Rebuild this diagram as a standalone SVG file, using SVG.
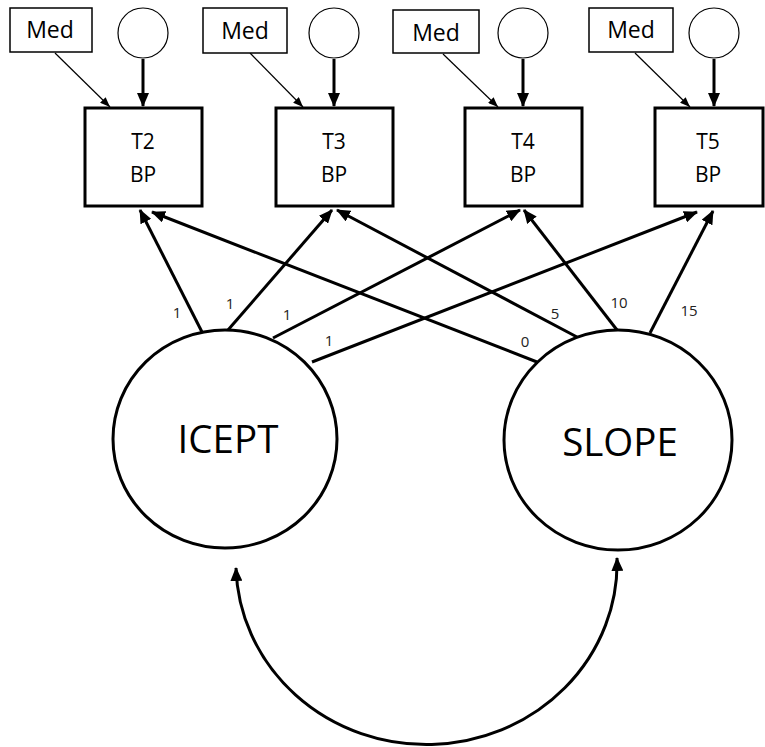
<svg xmlns="http://www.w3.org/2000/svg" width="765" height="747" viewBox="0 0 765 747">
<style>
.box{fill:#fff;stroke:#000;stroke-width:3}
.med{fill:#fff;stroke:#000;stroke-width:1.5}
.err{fill:#fff;stroke:#000;stroke-width:1.2}
.lat{fill:#fff;stroke:#000;stroke-width:3}
.t{font-family:"Open Sans","Noto Sans",sans-serif;fill:#000;text-anchor:middle}
.big{font-size:38.5px}
.mid{font-size:21px}
.medt{font-size:23px}
.lab{font-size:15px;fill:#222}
.thick{stroke:#000;stroke-width:3;fill:none;marker-end:url(#ah)}
.thin{stroke:#000;stroke-width:1.2;fill:none;marker-end:url(#ahs)}
</style>
<defs>
<marker id="ah" markerUnits="userSpaceOnUse" markerWidth="14" markerHeight="12" refX="13" refY="6" orient="auto-start-reverse" viewBox="0 0 14 12">
<path d="M0,0 L14,6 L0,12 z" fill="#000"/>
</marker>
<marker id="ahs" markerUnits="userSpaceOnUse" markerWidth="10" markerHeight="8" refX="10" refY="4" orient="auto" viewBox="0 0 10 8">
<path d="M0,0 L10,4 L0,8 z" fill="#000"/>
</marker>
</defs>
<rect width="765" height="747" fill="#fff"/>
<g id="connectors">
<line class="thin" x1="55" y1="53" x2="110" y2="107"/>
<line class="thin" x1="250" y1="53" x2="303" y2="107"/>
<line class="thin" x1="443" y1="54" x2="498" y2="107"/>
<line class="thin" x1="635" y1="53" x2="690" y2="107"/>
<line class="thick" x1="143" y1="59" x2="143" y2="106"/>
<line class="thick" x1="334" y1="59" x2="334" y2="106"/>
<line class="thick" x1="523" y1="59" x2="523" y2="106"/>
<line class="thick" x1="714" y1="59" x2="714" y2="106"/>
<line class="thick" x1="202" y1="332" x2="140" y2="210"/>
<line class="thick" x1="228" y1="330" x2="332" y2="210"/>
<line class="thick" x1="273" y1="338" x2="520" y2="210"/>
<line class="thick" x1="312" y1="362" x2="697" y2="212"/>
<line class="thick" x1="537" y1="362" x2="152" y2="212"/>
<line class="thick" x1="577" y1="337" x2="337" y2="210"/>
<line class="thick" x1="617" y1="330" x2="524" y2="210"/>
<line class="thick" x1="650" y1="333" x2="713" y2="211"/>
<path class="thick" style="marker-start:url(#ah)" d="M236,568 A190,181 0 0 0 617,558"/>
</g>
<g id="labels">
<text class="t lab" x="177" y="318">1</text>
<text class="t lab" x="230" y="309">1</text>
<text class="t lab" x="287" y="320">1</text>
<text class="t lab" x="329" y="346">1</text>
<text class="t lab" x="525" y="347">0</text>
<text class="t lab" x="555" y="319">5</text>
<text class="t lab" x="619" y="308">10</text>
<text class="t lab" x="689" y="316">15</text>
</g>
<g id="med2"><rect class="med" x="10" y="8" width="82" height="44"/><text class="t medt" x="50" y="38">Med</text></g>
<g id="med3"><rect class="med" x="203" y="8" width="84" height="45"/><text class="t medt" x="245" y="39">Med</text></g>
<g id="med4"><rect class="med" x="393" y="10" width="86" height="43"/><text class="t medt" x="436" y="41">Med</text></g>
<g id="med5"><rect class="med" x="589" y="8" width="84" height="44"/><text class="t medt" x="631" y="38">Med</text></g>
<g id="e2"><circle class="err" cx="143" cy="33" r="25"/></g>
<g id="e3"><circle class="err" cx="334" cy="33" r="25"/></g>
<g id="e4"><circle class="err" cx="523" cy="33" r="25"/></g>
<g id="e5"><circle class="err" cx="714" cy="33" r="25"/></g>
<g id="t2"><rect class="box" x="85" y="108" width="117" height="98"/><text class="t mid" x="143" y="149">T2</text><text class="t mid" x="143" y="182">BP</text></g>
<g id="t3"><rect class="box" x="276" y="108" width="117" height="98"/><text class="t mid" x="334" y="149">T3</text><text class="t mid" x="334" y="182">BP</text></g>
<g id="t4"><rect class="box" x="465" y="108" width="117" height="98"/><text class="t mid" x="523" y="149">T4</text><text class="t mid" x="523" y="182">BP</text></g>
<g id="t5"><rect class="box" x="655" y="108" width="108" height="98"/><text class="t mid" x="708" y="149">T5</text><text class="t mid" x="708" y="182">BP</text></g>
<g id="icept"><ellipse class="lat" cx="225" cy="439" rx="112" ry="109"/><text class="t big" x="228" y="453">ICEPT</text></g>
<g id="slope"><ellipse class="lat" cx="618" cy="440" rx="114" ry="110"/><text class="t big" x="620" y="456">SLOPE</text></g>
</svg>
